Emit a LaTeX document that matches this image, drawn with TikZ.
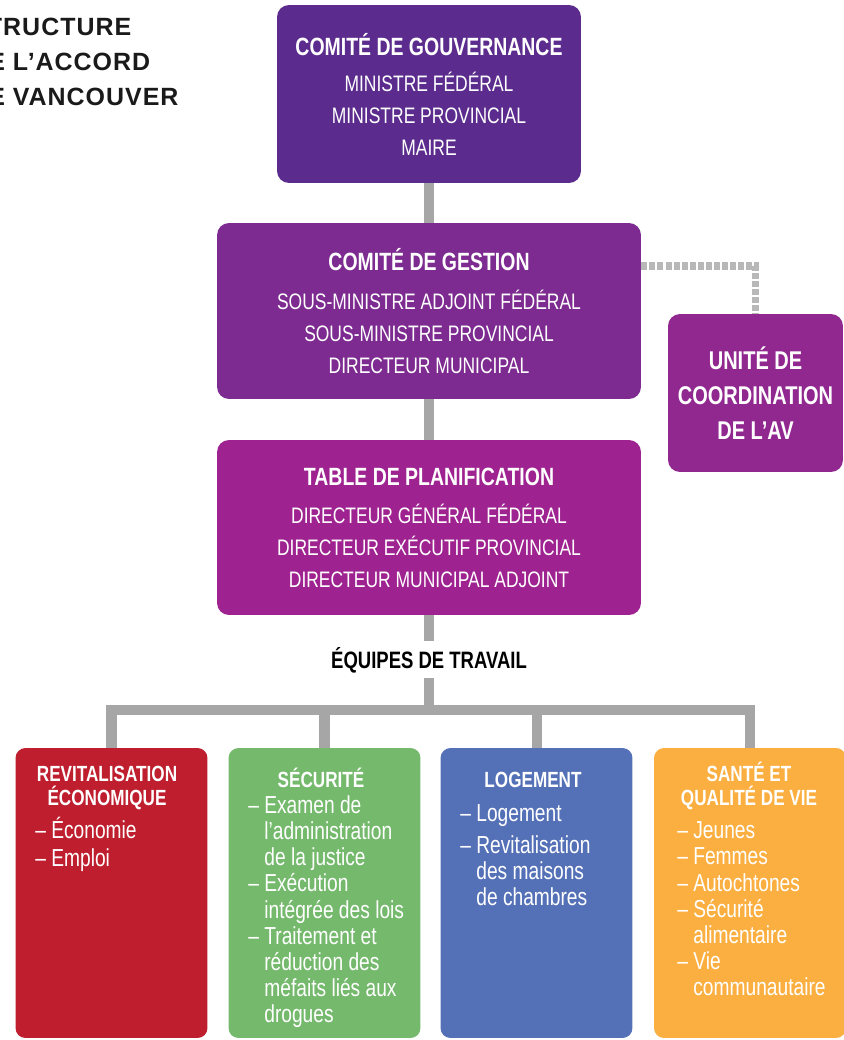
\documentclass[tikz,border=0pt]{standalone}
\usepackage{fontspec}
\setmainfont{Liberation Sans}
\newfontfamily\cond[FakeStretch=0.78]{Liberation Sans}
\newfontfamily\titlefont[LetterSpace=4]{Liberation Sans}

\definecolor{govpurple}{HTML}{5B2C8E}
\definecolor{gestpurple}{HTML}{7D2B90}
\definecolor{planpurple}{HTML}{9E2390}
\definecolor{unitpurple}{HTML}{90288F}
\definecolor{ecored}{HTML}{BE1E2D}
\definecolor{secugreen}{HTML}{74B96C}
\definecolor{logeblue}{HTML}{5470B6}
\definecolor{santeorange}{HTML}{FBAF40}
\definecolor{linkgray}{HTML}{A6A6A6}
\definecolor{dotgray}{HTML}{B8B8B8}
\definecolor{titleblack}{HTML}{1A1A1A}

\newcommand{\boxhead}[1]{{\bfseries\fontsize{14.2}{18}\selectfont #1}}
\newcommand{\ind}{\hphantom{–\ }}
\newcommand{\tightlines}{\lineskiplimit-\maxdimen\relax}

\tikzset{
    box/.style={rounded corners=0.24cm, inner sep=0pt, text=white, align=center,
        font={\cond\fontsize{12.75}{18.2}\selectfont}},
    team/.style={rounded corners=0.2cm, inner sep=0pt, minimum width=3.84cm, minimum height=5.8cm},
    teamhead/.style={anchor=base, inner sep=0pt, text=white, align=center,
        font={\cond\bfseries\fontsize{12.5}{13.1}\selectfont\tightlines}},
    teamlist/.style={anchor=base west, inner sep=0pt, text=white, align=left,
        font={\cond\fontsize{14}{14.8}\selectfont\tightlines}},
    link/.style={draw=linkgray, line width=5.7pt},
    dotlink/.style={draw=dotgray, line width=4.5pt, dash pattern=on 3.4pt off 1.2pt}
}

\begin{document}
\begin{tikzpicture}[x=0.02cm, y=-0.02cm]
    \useasboundingbox (0,0) rectangle (844,1040);

    % title, runs past the left edge (base = last line)
    \node[anchor=base west, align=left, inner sep=0pt, text=titleblack,
        font={\titlefont\bfseries\fontsize{14.2}{20.2}\selectfont}] (title) at (-31,106)
        {STRUCTURE\\DE L’ACCORD\\DE VANCOUVER};

    \node[box, fill=govpurple, minimum width=6.08cm, minimum height=3.56cm] (gov) at (429,94)
        {\boxhead{COMITÉ DE GOUVERNANCE}\\[2.3pt]MINISTRE FÉDÉRAL\\MINISTRE PROVINCIAL\\MAIRE};
    \node[box, fill=gestpurple, minimum width=8.48cm, minimum height=3.52cm] (gest) at (429,311)
        {\boxhead{COMITÉ DE GESTION}\\[4pt]SOUS-MINISTRE ADJOINT FÉDÉRAL\\SOUS-MINISTRE PROVINCIAL\\DIRECTEUR MUNICIPAL};
    \node[box, fill=planpurple, minimum width=8.48cm, minimum height=3.5cm] (plan) at (429,527.5)
        {\boxhead{TABLE DE PLANIFICATION}\\[3.4pt]DIRECTEUR GÉNÉRAL FÉDÉRAL\\DIRECTEUR EXÉCUTIF PROVINCIAL\\DIRECTEUR MUNICIPAL ADJOINT};
    \node[box, fill=unitpurple, minimum width=3.5cm, minimum height=3.16cm,
        font={\cond\bfseries\fontsize{14.6}{19.9}\selectfont}] (unit) at (755.5,393)
        {UNITÉ DE\\COORDINATION\\DE L’AV};

    \node[anchor=base, inner sep=3pt, font={\cond\bfseries\fontsize{13.5}{16}\selectfont}] (teams) at (429,668)
        {ÉQUIPES DE TRAVAIL};

    % working groups
    \node[team, fill=ecored] (eco) at (111.5,893) {};
    \node[team, fill=secugreen] (secu) at (324.5,893) {};
    \node[team, fill=logeblue] (loge) at (536.5,893) {};
    \node[team, fill=santeorange] (sante) at (750,893) {};

    \node[teamhead] (ecohead) at (107,805) {REVITALISATION\\ÉCONOMIQUE};
    \node[teamhead] (secuhead) at (321,787) {SÉCURITÉ};
    \node[teamhead] (logehead) at (533,787) {LOGEMENT};
    \node[teamhead] (santehead) at (749,805) {SANTÉ ET\\QUALITÉ DE VIE};

    \node[teamlist] (ecolist) at (35,866) {– Économie\\[1.1pt]– Emploi};
    \node[teamlist] (seculist) at (248,1022)
        {– Examen de\\\ind l’administration\\\ind de la justice\\– Exécution\\\ind intégrée des lois\\– Traitement et\\\ind réduction des\\\ind méfaits liés aux\\\ind drogues};
    \node[teamlist] (logelist) at (460,905)
        {– Logement\\[3.4pt]– Revitalisation\\\ind des maisons\\\ind de chambres};
    \node[teamlist] (santelist) at (677,995)
        {– Jeunes\\– Femmes\\– Autochtones\\– Sécurité\\\ind alimentaire\\– Vie\\\ind communautaire};

    % connectors
    \coordinate (hub) at (429,710);
    \draw[link] (gov) -- (gest);
    \draw[link] (gest) -- (plan);
    \draw[link] (plan) -- (teams);
    \draw[link] (teams) -- (hub);
    \draw[link] (eco.north) |- (hub) -| (sante.north);
    \draw[link] (secu.north) -- (secu.north |- hub);
    \draw[link] (loge.north) -- (loge.north |- hub);
    \draw[dotlink] ([yshift=0.9cm]gest.east) -| (unit.north);
\end{tikzpicture}
\end{document}
